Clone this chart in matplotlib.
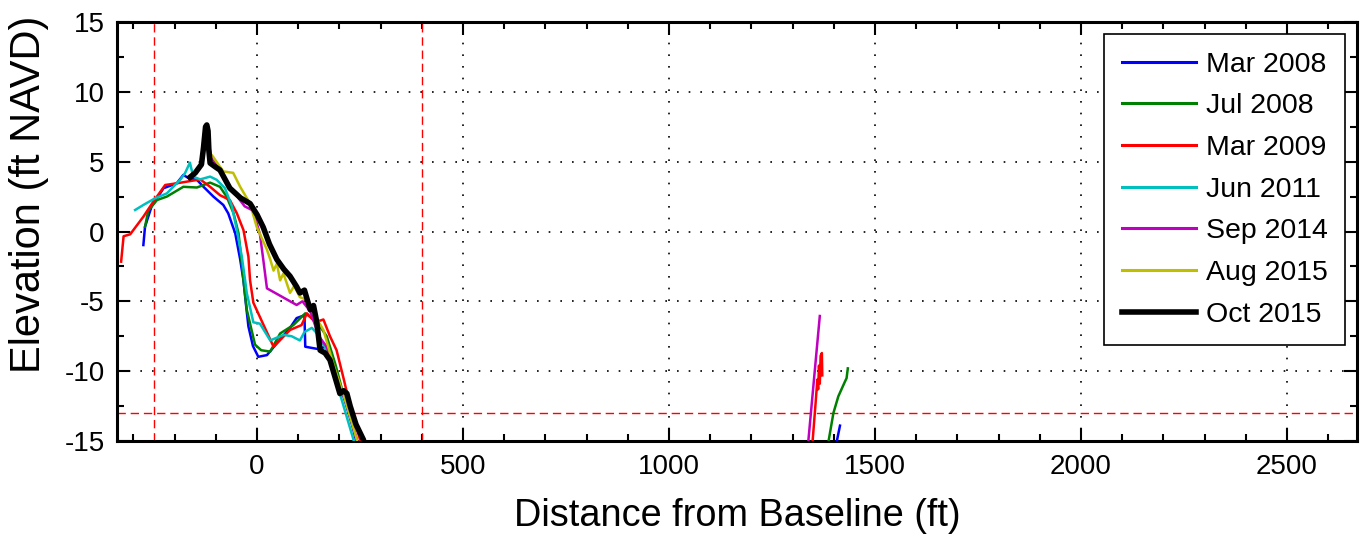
import numpy as np
import matplotlib
matplotlib.use('Agg')
import matplotlib.pyplot as plt
from matplotlib.ticker import MultipleLocator

nan = np.nan

# --- survey profiles (distance ft, elevation ft NAVD); nan splits the offshore pieces ---
mar2008_x = [-276, -272, -256, -227, -195, -179, -165, -146, -130, -106, -82, -70, -53, -41, -33, -27, -21, -10, 3, 24, 48, 80, 96, 115, 117, 145, 169, 185, 201, 215, 232, 245,
             nan, 1407, 1415]
mar2008_y = [-0.97, 0.34, 1.8, 3.1, 3.45, 4.05, 3.8, 3.7, 3.2, 2.5, 1.9, 1.3, -0.13, -2.0, -3.5, -5.2, -6.8, -8.2, -8.97, -8.85, -8.0, -6.9, -6.2, -6.0, -8.25, -8.4, -8.25, -9.4, -11.0, -12.3, -14.0, -15.5,
             nan, -15.05, -13.9]

jul2008_x = [-272, -264, -243, -219, -179, -146, -114, -90, -74, -57, -45, -38, -33, -25, -5, 10, 32, 56, 88, 117, 145, 169, 190, 209, 230, 258, 262,
             nan, 1387, 1399, 1411, 1427, 1431, 1434]
jul2008_y = [0.34, 1.5, 2.25, 2.5, 3.2, 3.15, 3.5, 3.2, 2.5, 1.3, -0.13, -2.0, -3.5, -5.6, -8.1, -8.5, -8.6, -7.3, -6.7, -5.86, -6.46, -7.5, -9.5, -11.6, -13.0, -14.9, -15.5,
             nan, -15.05, -13.0, -11.8, -10.75, -10.5, -9.8]

mar2009_x = [-330, -324, -308, -276, -252, -223, -195, -138, -114, -90, -66, -49, -33, -21, -17, -9, 40, 80, 108, 121, 141, 161, 177, 193, 209, 226, 250, 254,
             nan, 1348, 1356, 1360, 1362, 1364, 1366, 1368, 1371, 1372]
mar2009_y = [-2.16, -0.34, -0.2, 1.06, 2.13, 3.33, 3.45, 3.73, 3.2, 2.6, 2.25, 1.3, 0.1, -1.8, -3.5, -5.1, -8.25, -7.05, -6.7, -5.86, -6.5, -6.3, -7.5, -8.5, -10.4, -12.5, -14.9, -15.5,
             nan, -15.2, -12.2, -10.6, -11.3, -9.6, -10.9, -8.9, -8.7, -10.3]

jun2011_x = [-296, -276, -248, -219, -187, -175, -163, -155, -138, -114, -98, -78, -61, -49, -37, -29, -25, -9, 7, 32, 64, 84, 104, 115, 133, 149, 169, 201, 234, 238]
jun2011_y = [1.54, 1.9, 2.37, 2.73, 3.69, 4.17, 4.93, 3.93, 3.73, 3.93, 3.7, 3.1, 1.8, 0.1, -1.8, -3.5, -4.4, -6.5, -6.6, -7.8, -7.4, -7.5, -7.8, -7.2, -6.9, -7.4, -8.5, -11.6, -14.9, -15.5]

sep2014_x = [-140, -122, -110, -90, -66, -30, -10, 7, 15, 24, 96, 110, 129, 150, 169, 200, 220, 248,
             nan, 1338, 1366]
sep2014_y = [4.5, 7.0, 5.2, 4.5, 3.2, 1.8, 1.5, -0.2, -2.0, -4.07, -5.26, -5.0, -5.7, -7.5, -8.25, -11.0, -12.5, -15.5,
             nan, -15.05, -6.05]

aug2015_x = [-130, -122, -114, -107, -82, -58, -41, -17, -1, 24, 32, 40, 48, 56, 64, 80, 90, 104, 121, 140, 161, 185, 209, 242, 246]
aug2015_y = [5.5, 7.5, 5.6, 5.36, 4.3, 4.2, 3.2, 2.0, 0.34, -1.3, -2.0, -2.8, -2.3, -3.5, -3.0, -4.4, -3.9, -4.7, -4.9, -6.0, -7.05, -9.5, -11.6, -14.9, -15.5]

oct2015_x = [-163, -150, -135, -130, -125, -122, -119, -117, -114, -100, -90, -66, -40, -17, 0, 15, 30, 48, 65, 80, 96, 104, 115, 129, 137, 145, 153, 165, 177, 190, 201, 210, 218, 226, 240, 258, 263]
oct2015_y = [3.88, 4.2, 4.8, 6.0, 7.5, 7.63, 7.2, 5.8, 4.9, 4.6, 4.4, 3.1, 2.4, 2.0, 1.2, 0.3, -0.9, -2.0, -2.7, -3.2, -3.95, -4.4, -4.2, -5.6, -5.3, -6.5, -8.5, -8.7, -9.2, -10.5, -11.6, -11.4, -11.6, -12.5, -13.8, -14.9, -15.5]

labels = ['Mar 2008', 'Jul 2008', 'Mar 2009', 'Jun 2011', 'Sep 2014', 'Aug 2015', 'Oct 2015']
colors = ['#0000ff', '#008000', '#ff0000', '#00bfbf', '#bf00bf', '#bfbf00', '#000000']
series = [(mar2008_x, mar2008_y), (jul2008_x, jul2008_y), (mar2009_x, mar2009_y),
          (jun2011_x, jun2011_y), (sep2014_x, sep2014_y), (aug2015_x, aug2015_y),
          (oct2015_x, oct2015_y)]

# reference lines
v_lines = [-250, 400]
h_line = -13

plt.rcParams['font.family'] = ['Liberation Sans', 'DejaVu Sans']
plt.rcParams['axes.unicode_minus'] = False

fig = plt.figure(figsize=(13.68, 5.41), dpi=100)
ax = fig.add_axes([117 / 1368, 1 - 441 / 541, (1357 - 117) / 1368, (441 - 22) / 541])

for (x, y), lab, c in zip(series, labels, colors):
    lw = 4.0 if c == '#000000' else 1.8
    ax.plot(x, y, color=c, lw=lw, label=lab, solid_joinstyle='round', zorder=3)

for xv in v_lines:
    ax.axvline(xv, color='red', lw=1.0, dashes=(6, 3.5), zorder=2)
ax.axhline(h_line, color='red', lw=1.0, dashes=(6, 3.5), zorder=2)

ax.set_xlim(-340, 2670)
ax.set_ylim(-15, 15)
ax.xaxis.set_major_locator(MultipleLocator(500))
ax.xaxis.set_minor_locator(MultipleLocator(100))
ax.yaxis.set_major_locator(MultipleLocator(5))
ax.yaxis.set_minor_locator(MultipleLocator(2.5))
ax.grid(True, which='major', color='black', lw=1.2, linestyle=(0, (1, 6)), zorder=1)
ax.tick_params(which='both', direction='in', top=True, right=True, width=1.5, labelsize=20, pad=9)
ax.tick_params(which='major', length=9.5)
ax.tick_params(which='minor', length=5)
for s in ax.spines.values():
    s.set_linewidth(2.2)

ax.set_xlabel('Distance from Baseline (ft)', fontsize=27.3, labelpad=13)
ax.set_ylabel('Elevation (ft NAVD)', fontsize=30)
ax.yaxis.set_label_coords(-0.055, 0.589)

leg = ax.legend(loc='upper right', fontsize=20.5, frameon=True, fancybox=False, framealpha=1,
                edgecolor='black', handlelength=2.6, handletextpad=0.35, labelspacing=0.55,
                borderpad=0.62, borderaxespad=0.42)
leg.get_frame().set_linewidth(1.2)
for h in leg.get_lines()[:-1]:
    h.set_linewidth(2.2)

fig.savefig('out.png', dpi=100)
